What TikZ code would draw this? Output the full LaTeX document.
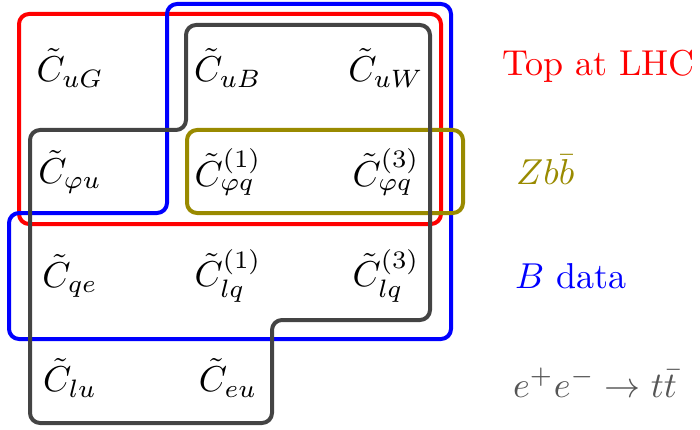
\documentclass[tikz,border=0pt]{standalone}
\usepackage{graphicx}
\usepackage{amsmath}
\definecolor{oliveC}{RGB}{153,138,0}
\definecolor{grayC}{RGB}{68,68,68}
\definecolor{grayT}{RGB}{85,85,85}
\newcommand{\bigtxt}[1]{\scalebox{3.6}{\fontsize{10}{12}\selectfont #1}}
\tikzset{
  coef/.style={inner sep=0pt, anchor=center},
  lab/.style={inner sep=0pt, anchor=base west},
  frame/.style={line width=4pt, rounded corners=10pt, line join=round},
}
\begin{document}
\begin{tikzpicture}[x=1pt,y=-1pt]
\useasboundingbox (0,0) rectangle (700,430);
% coefficients
\node[coef] (uG) at (70,68) {\bigtxt{$\tilde C_{uG}$}};
\node[coef] (uB) at (228,68) {\bigtxt{$\tilde C_{uB}$}};
\node[coef] (uW) at (386,68) {\bigtxt{$\tilde C_{uW}$}};
\node[coef] (pu) at (70,172) {\bigtxt{$\tilde C_{\varphi u}$}};
\node[coef] (pq1) at (228,172) {\bigtxt{$\tilde C_{\varphi q}^{(1)}$}};
\node[coef] (pq3) at (386,172) {\bigtxt{$\tilde C_{\varphi q}^{(3)}$}};
\node[coef] (qe) at (70,276) {\bigtxt{$\tilde C_{qe}$}};
\node[coef] (lq1) at (228,276) {\bigtxt{$\tilde C_{lq}^{(1)}$}};
\node[coef] (lq3) at (386,276) {\bigtxt{$\tilde C_{lq}^{(3)}$}};
\node[coef] (lu) at (70,378) {\bigtxt{$\tilde C_{lu}$}};
\node[coef] (eu) at (228,378) {\bigtxt{$\tilde C_{eu}$}};
% frames
\draw[frame, red] (19,14) rectangle (441,224);
\draw[frame, blue] (167,4) -- (451,4) -- (451,339) -- (9,339) -- (9,213) -- (167,213) -- cycle;
\draw[frame, oliveC] (187,130) rectangle (463,213);
\draw[frame, grayC] (186,25) -- (430,25) -- (430,320) -- (272,320) -- (272,423) -- (30,423) -- (30,130) -- (186,130) -- cycle;
% labels
\node[lab, red] (top) at (502,76) {\bigtxt{Top at LHC}};
\node[lab, oliveC] (zbb) at (516,185) {\bigtxt{$Zb\bar b$}};
\node[lab, blue] (bdat) at (515,288) {\bigtxt{$B$ data}};
\node[lab, grayT] (ee) at (513,397) {\bigtxt{$e^+e^-\to t\bar t$}};
\end{tikzpicture}
\end{document}
